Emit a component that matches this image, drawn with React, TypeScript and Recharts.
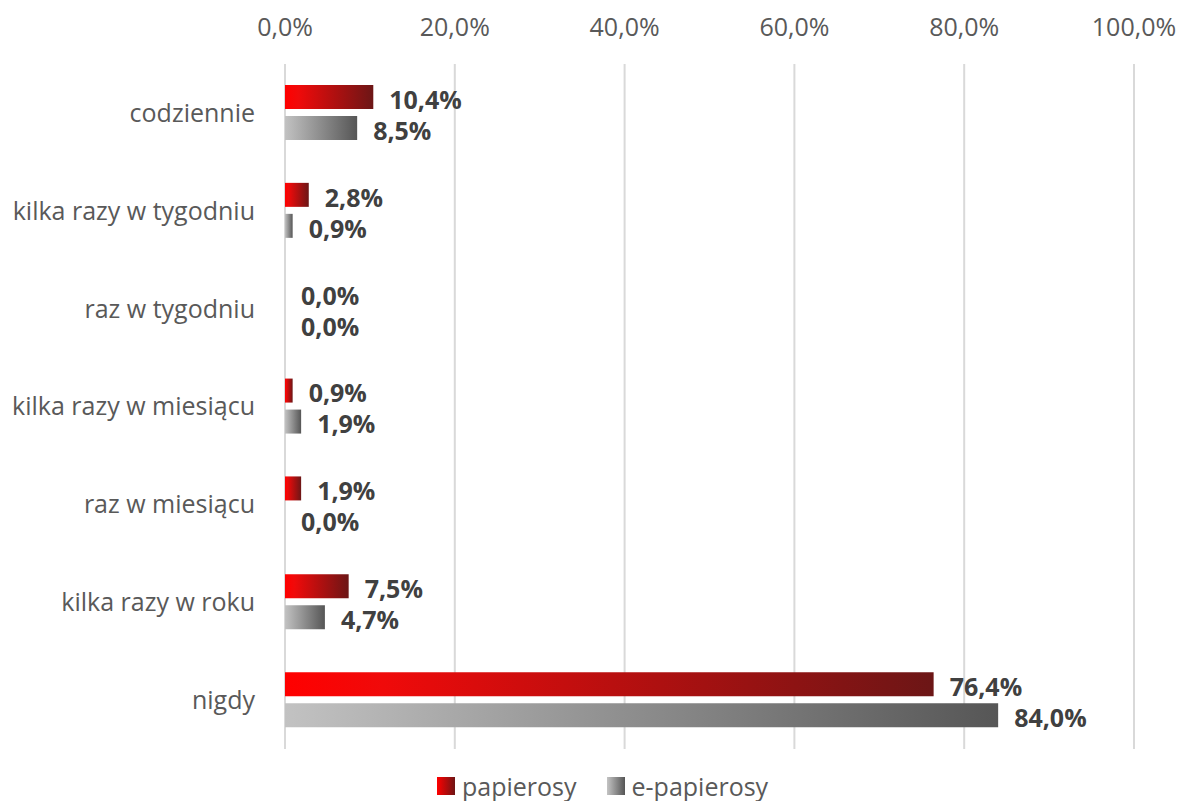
import React from "react";
import { BarChart, Bar, XAxis, YAxis, CartesianGrid, Legend, LabelList } from "recharts";

const categories = [
  "codziennie",
  "kilka razy w tygodniu",
  "raz w tygodniu",
  "kilka razy w miesiącu",
  "raz w miesiącu",
  "kilka razy w roku",
  "nigdy",
];
const papierosy = [10.4, 2.8, 0.0, 0.9, 1.9, 7.5, 76.4];
const ePapierosy = [8.5, 0.9, 0.0, 1.9, 0.0, 4.7, 84.0];
const xTicks = [0, 20, 40, 60, 80, 100];

const data = categories.map((c, i) => ({ name: c, papierosy: papierosy[i], ePapierosy: ePapierosy[i] }));

const fmt = (v: number) => v.toFixed(1).replace(".", ",") + "%";
const FONT = "'Open Sans', 'Noto Sans', sans-serif";

const LegendContent = () => (
  <div style={{ height: 52, display: "flex", justifyContent: "flex-start", paddingLeft: 437, fontFamily: FONT, fontSize: 25, color: "#595959" }}>
    <div style={{ marginTop: 23, display: "flex", alignItems: "center", height: 28, lineHeight: "28px" }}>
      <span style={{ width: 18, height: 18, background: "linear-gradient(to right, #ff0000, #6e1515)", display: "inline-block", marginRight: 7 }} />
      <span style={{ marginRight: 30 }}>papierosy</span>
      <span style={{ width: 18, height: 18, background: "linear-gradient(to right, #c4c4c4, #555555)", display: "inline-block", marginRight: 7 }} />
      <span>e-papierosy</span>
    </div>
  </div>
);

const labelStyle = { fill: "#404040", fontSize: 25, fontWeight: 700, fontFamily: FONT };

export default function App() {
  return (
    <div style={{ position: "absolute", left: 0, top: 0, width: 1178, height: 801, overflow: "visible" }}>
      <BarChart
        width={1178}
        height={801}
        data={data}
        layout="vertical"
        margin={{ top: 0, right: 44, bottom: 0, left: 0 }}
        barSize={24}
        barGap={7}
        style={{ overflow: "visible" }}
      >
        <defs>
          <linearGradient id="gRed" x1="0" y1="0" x2="1" y2="0">
            <stop offset="0%" stopColor="#ff0000" />
            <stop offset="15%" stopColor="#f00a0a" />
            <stop offset="100%" stopColor="#6c1616" />
          </linearGradient>
          <linearGradient id="gGrey" x1="0" y1="0" x2="1" y2="0">
            <stop offset="0%" stopColor="#c2c2c2" />
            <stop offset="100%" stopColor="#565656" />
          </linearGradient>
        </defs>
        <CartesianGrid horizontal={false} stroke="#d9d9d9" strokeWidth={2} />
        <XAxis
          type="number"
          orientation="top"
          domain={[0, 100]}
          ticks={xTicks}
          tickFormatter={fmt}
          axisLine={false}
          tickLine={false}
          tickSize={0}
          tickMargin={28}
          height={64}
          interval={0}
          tick={{ fill: "#595959", fontSize: 25, fontFamily: FONT }}
        />
        <YAxis
          type="category"
          dataKey="name"
          width={285}
          axisLine={false}
          tickLine={false}
          tickSize={0}
          tickMargin={30}
          interval={0}
          tick={{ fill: "#595959", fontSize: 25, fontFamily: FONT }}
        />
        <Legend verticalAlign="bottom" content={<LegendContent />} />
        <Bar dataKey="papierosy" name="papierosy" fill="url(#gRed)" minPointSize={0.001} isAnimationActive={false}>
          <LabelList
            dataKey="papierosy"
            position="right"
            offset={16}
            dy={3}
            formatter={(v: any) => fmt(Number(v))}
            style={labelStyle}
          />
        </Bar>
        <Bar dataKey="ePapierosy" name="e-papierosy" fill="url(#gGrey)" minPointSize={0.001} isAnimationActive={false}>
          <LabelList
            dataKey="ePapierosy"
            position="right"
            offset={16}
            dy={3}
            formatter={(v: any) => fmt(Number(v))}
            style={labelStyle}
          />
        </Bar>
      </BarChart>
    </div>
  );
}
